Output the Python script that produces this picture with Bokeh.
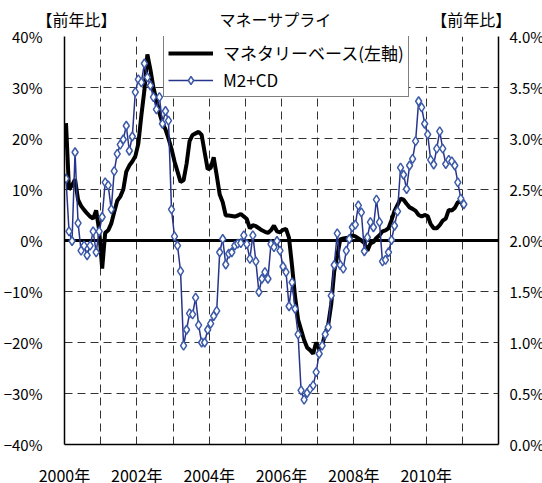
import numpy as np
from bokeh.plotting import figure
from bokeh.models import (Range1d, LinearAxis, FixedTicker, Span, Legend,
                          LegendItem, PrintfTickFormatter)
from bokeh.embed import file_html
from bokeh.resources import INLINE

# ---- data (monthly, Jan 2000 .. Jan 2011) ----
months = list(range(133))

# Monetary base, y/y % (left axis)
monetary_base = [
    23.0, 10.0, 10.8, 12.0, 8.0, 6.8, 6.0, 5.3, 4.7, 4.3, 5.9, 2.0,
    -5.5, 1.5, 2.0, 3.3, 5.6, 7.8, 8.6, 10.0, 13.5, 14.7, 15.5, 16.5,
    19.0, 24.5, 29.4, 36.5, 33.5, 30.0, 27.5, 25.0, 23.0, 21.8, 20.0, 18.0,
    15.5, 13.5, 11.5, 11.8, 15.0, 19.5, 20.7, 21.0, 21.3, 20.7, 17.3, 14.0,
    14.2, 16.3, 12.8, 9.0, 7.5, 4.9, 4.9, 4.8, 4.7, 4.9, 5.2, 4.7,
    4.2, 2.4, 3.0, 2.8, 2.4, 2.0, 1.7, 1.5, 2.0, 2.9, 1.8, 1.6,
    2.1, 2.3, 0.5, -5.0, -11.0, -15.5, -17.5, -19.5, -21.0, -21.5, -22.2, -20.0,
    -21.2, -20.5, -18.3, -16.5, -12.5, -6.0, -3.0, 0.2, 0.4, 0.5, 0.6, 1.0,
    0.8, 0.4, 0.0, -0.5, -2.0, -0.6, -0.3, 0.5, 1.0, 1.8, 2.0, 2.4,
    4.0, 5.8, 7.0, 8.2, 8.0, 7.2, 6.5, 6.2, 5.8, 5.0, 4.7, 5.0,
    4.8, 3.2, 2.4, 2.4, 3.0, 3.9, 4.3, 6.0, 5.9, 6.4, 7.5, 7.6,
    6.5,
]

# M2+CD, y/y % (right axis)
m2cd = [
    2.605, 2.09, 1.995, 2.865, 2.17, 1.90, 1.95, 1.855, 1.95, 2.09, 1.885, 2.09,
    2.23, 2.57, 2.54, 2.305, 2.68, 2.85, 2.94, 2.99, 3.125, 2.88, 3.02, 3.455,
    3.58, 3.55, 3.735, 3.60, 3.52, 3.405, 3.285, 3.405, 3.145, 3.27, 3.175, 2.305,
    2.04, 1.95, 1.70, 0.97, 1.125, 1.285, 1.275, 1.44, 1.17, 1.00, 1.00, 1.125,
    1.185, 1.26, 1.31, 1.885, 2.015, 1.765, 1.87, 1.885, 1.95, 1.97, 1.975, 2.05,
    1.965, 1.82, 2.05, 1.795, 1.495, 1.625, 1.69, 1.625, 1.965, 1.935, 1.995, 1.90,
    1.745, 1.69, 1.355, 1.59, 1.33, 1.08, 0.53, 0.44, 0.505, 0.545, 0.58, 0.71,
    0.89, 0.97, 1.08, 1.15, 1.46, 1.76, 2.07, 1.76, 1.725, 1.90, 2.015, 2.13,
    2.155, 2.345, 2.275, 1.895, 2.03, 2.18, 2.13, 2.40, 2.18, 1.795, 1.81, 1.885,
    2.005, 2.145, 2.285, 2.715, 2.645, 2.505, 2.735, 2.80, 2.975, 3.365, 3.305, 3.145,
    3.04, 2.79, 2.745, 2.90, 3.07, 2.90, 2.75, 2.79, 2.775, 2.735, 2.57, 2.41,
    2.355,
]

year_ticks = [0, 24, 48, 72, 96, 120]
year_labels = ["2000年", "2002年", "2004年", "2006年", "2008年", "2010年"]
grid_months = [12, 24, 36, 48, 60, 72, 84, 96, 108, 120, 132]
left_ticks = [-40, -30, -20, -10, 0, 10, 20, 30, 40]
left_labels = ["\u221240%", "\u221230%", "\u221220%", "\u221210%", "0%", "10%", "20%", "30%", "40%"]
right_ticks = [0, 0.5, 1.0, 1.5, 2.0, 2.5, 3.0, 3.5, 4.0]

title_text = "マネーサプライ"
unit_text = "【前年比】"
header_ticks = [4, 70, 135]
header_labels = [unit_text, title_text, unit_text]
base_name = "マネタリーベース(左軸)"
m2_name = "M2+CD"

FONT = "Noto Sans CJK JP"

x = [m + 0.5 for m in months]

p = figure(frame_width=434, frame_height=408,
           output_backend="svg", toolbar_location=None,
           x_range=Range1d(0, 144), y_range=Range1d(-40, 40),
           min_border_left=61, min_border_right=47, min_border_top=36,
           min_border_bottom=39)
p.title.visible = False
p.outline_line_color = None
p.background_fill_color = "white"
p.border_fill_color = "white"

p.extra_y_ranges = {"right": Range1d(0, 4)}

# left axis
ly = p.left[0]
ly.ticker = FixedTicker(ticks=left_ticks)
ly.major_label_overrides = {t: l for t, l in zip(left_ticks, left_labels)}
ly.axis_line_color = "black"
ly.axis_line_width = 1.5
ly.major_tick_line_color = None
ly.minor_tick_line_color = None
ly.major_label_standoff = 16
ly.major_label_text_font = FONT
ly.major_label_text_font_size = "15px"
ly.major_label_text_color = "black"

# bottom axis
bx = p.below[0]
bx.ticker = FixedTicker(ticks=year_ticks)
bx.major_label_overrides = {t: l for t, l in zip(year_ticks, year_labels)}
bx.axis_line_color = "black"
bx.axis_line_width = 1.5
bx.major_tick_line_color = None
bx.minor_tick_line_color = None
bx.major_label_standoff = 12
bx.major_label_text_font = FONT
bx.major_label_text_font_size = "16px"
bx.major_label_text_color = "black"

# right axis
ra = LinearAxis(y_range_name="right", ticker=FixedTicker(ticks=right_ticks),
                formatter=PrintfTickFormatter(format="%.1f%%"))
ra.axis_line_color = "black"
ra.axis_line_width = 1.5
ra.major_tick_line_color = None
ra.minor_tick_line_color = None
ra.major_label_standoff = 5
ra.major_label_text_font = FONT
ra.major_label_text_font_size = "15px"
ra.major_label_text_color = "black"
p.add_layout(ra, "right")

# header row (title and units) as labels of an axis above the frame
ta = LinearAxis(ticker=FixedTicker(ticks=header_ticks))
ta.major_label_overrides = {t: l for t, l in zip(header_ticks, header_labels)}
ta.axis_line_color = None
ta.major_tick_line_color = None
ta.minor_tick_line_color = None
ta.major_label_standoff = 0
ta.major_label_text_font = FONT
ta.major_label_text_font_size = "16px"
ta.major_label_text_color = "black"
p.add_layout(ta, "above")

# grids
p.xgrid.ticker = FixedTicker(ticks=grid_months)
p.xgrid.grid_line_color = "#333333"
p.xgrid.grid_line_dash = "8 5"
p.xgrid.grid_line_width = 1
p.ygrid.ticker = FixedTicker(ticks=left_ticks)
p.ygrid.grid_line_color = "#333333"
p.ygrid.grid_line_dash = "8 5"
p.ygrid.grid_line_width = 1

zero = Span(location=0, dimension="width", line_color="black", line_width=3,
            level="underlay")
p.add_layout(zero)

r_base = p.line(x, monetary_base, line_color="black", line_width=4)
r_m2 = p.line(x, m2cd, line_color="#27348B", line_width=1.5, y_range_name="right")
r_m2p = p.scatter(x, m2cd, marker="diamond", size=9,
                  fill_color="white", line_color="#3C5AA8", line_width=1.5,
                  y_range_name="right")

legend = Legend(items=[LegendItem(label=base_name, renderers=[r_base]),
                       LegendItem(label=m2_name, renderers=[r_m2, r_m2p])],
                location=(99, 347))
legend.border_line_color = "black"
legend.border_line_width = 1
legend.background_fill_color = "white"
legend.background_fill_alpha = 1
legend.label_text_font = FONT
legend.label_text_font_size = "17px"
legend.label_text_color = "black"
legend.glyph_width = 45
legend.glyph_height = 20
legend.label_height = 20
legend.label_standoff = 10
legend.spacing = 2
legend.padding = 4
legend.margin = 0
p.add_layout(legend)

open("out.html", "w").write(file_html(p, INLINE))
